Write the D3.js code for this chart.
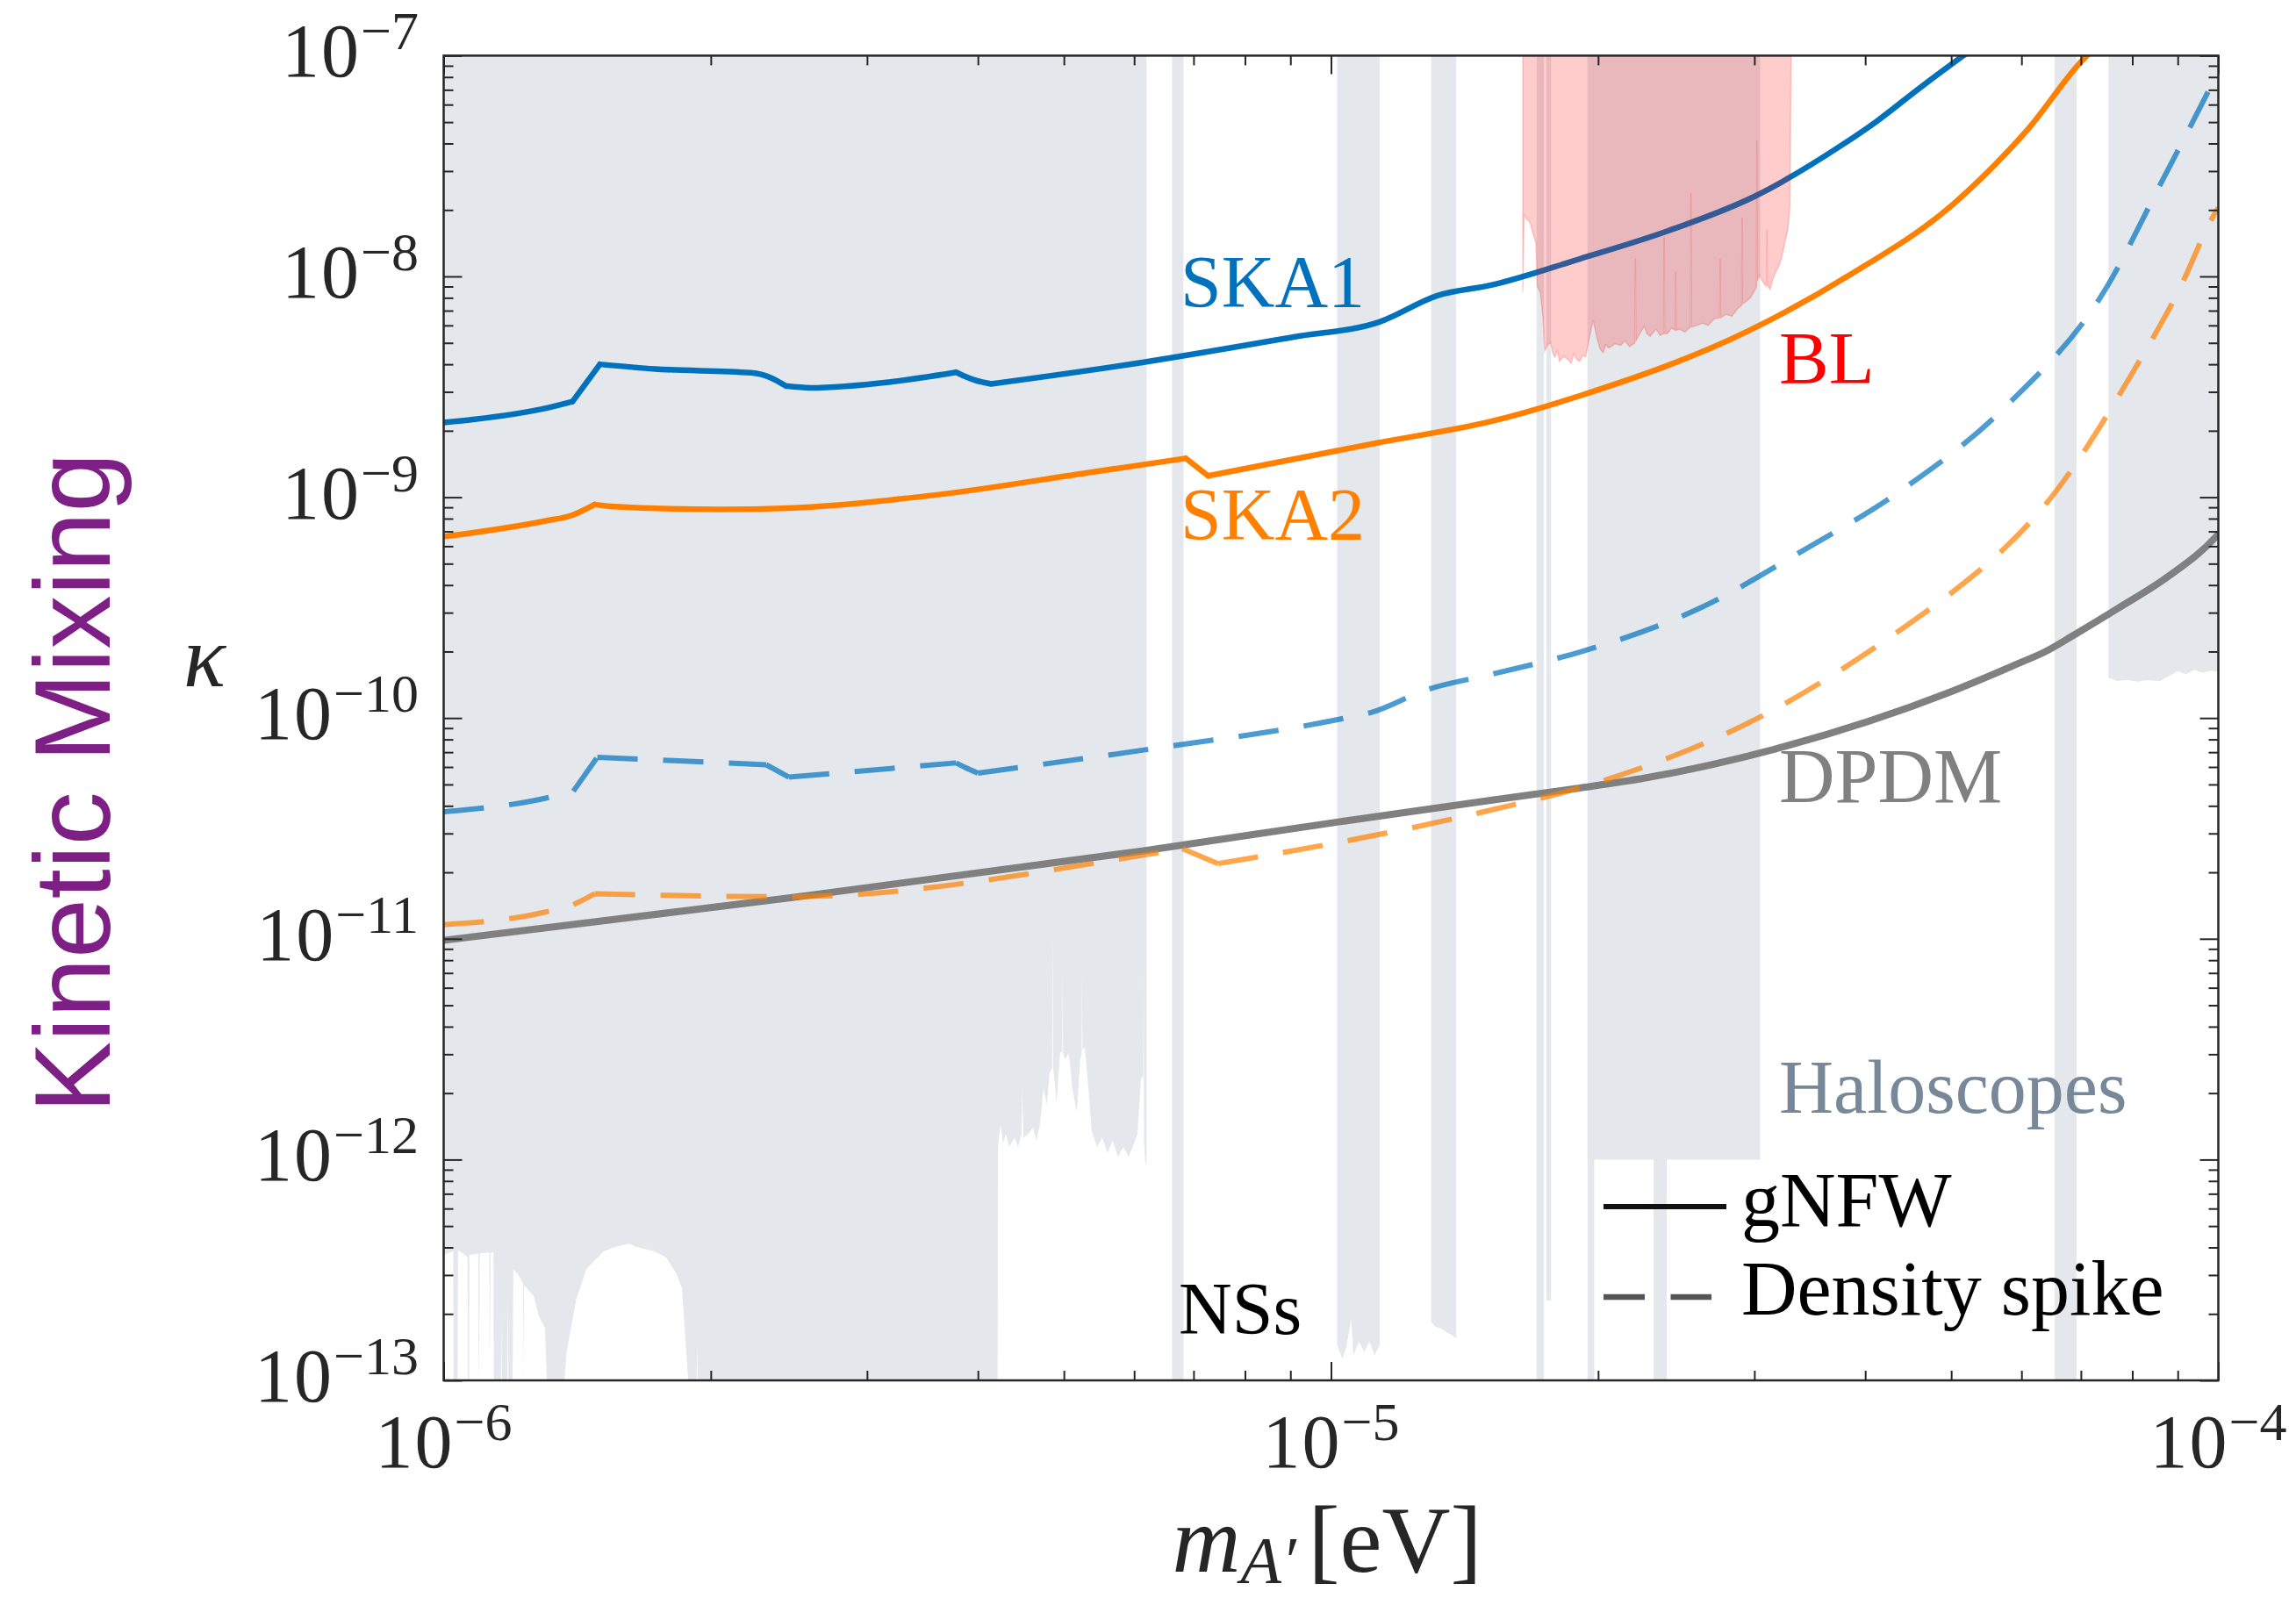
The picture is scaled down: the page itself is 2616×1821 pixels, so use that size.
<!DOCTYPE html>
<html>
<head>
<meta charset="utf-8">
<script src="https://cdn.jsdelivr.net/npm/d3@7"></script>
<style>
  html, body { margin: 0; padding: 0; background: #ffffff; }
  svg { display: block; }
</style>
</head>
<body>
<svg id="chart" width="2616" height="1821"></svg>
<script>
// ---------- axis ranges and tick labels ----------
const massDomain = [1e-6, 1e-4];
const kappaDomain = [1e-13, 1e-7];
const xMajorTicks = [1e-6, 1e-5, 1e-4];
const xTickExponents = ["\u22126", "\u22125", "\u22124"];
const yMajorTicks = [1e-13, 1e-12, 1e-11, 1e-10, 1e-9, 1e-8, 1e-7];
const yTickExponents = ["\u221213", "\u221212", "\u221211", "\u221210", "\u22129", "\u22128", "\u22127"];

// ---------- projected sensitivities [mass eV, kappa] ----------
const ska1Gnfw = [
  [1.0e-6, 2.18e-9], [1.08e-6, 2.25e-9], [1.315e-6, 2.55e-9], [1.397e-6, 2.71e-9],
  [1.50e-6, 4.00e-9], [1.73e-6, 3.81e-9], [2.22e-6, 3.66e-9], [2.34e-6, 3.47e-9],
  [2.43e-6, 3.19e-9], [2.59e-6, 3.13e-9], [3.19e-6, 3.33e-9], [3.78e-6, 3.68e-9],
  [3.86e-6, 3.54e-9], [3.96e-6, 3.40e-9], [4.14e-6, 3.26e-9], [6.13e-6, 4.08e-9],
  [9.08e-6, 5.32e-9], [1.134e-5, 6.22e-9], [1.318e-5, 8.18e-9], [1.519e-5, 9.15e-9],
  [1.907e-5, 1.20e-8], [2.395e-5, 1.605e-8], [3.006e-5, 2.31e-8], [3.77e-5, 3.95e-8],
  [4.12e-5, 5.04e-8], [4.60e-5, 7.10e-8], [5.16e-5, 1.0e-7], [5.50e-5, 1.2e-7]
];
const ska2Gnfw = [
  [1.0e-6, 6.62e-10], [1.30e-6, 7.80e-10], [1.397e-6, 8.30e-10], [1.48e-6, 9.27e-10],
  [1.54e-6, 9.10e-10], [2.05e-6, 8.80e-10], [2.45e-6, 8.93e-10], [3.63e-6, 1.03e-9],
  [5.38e-6, 1.30e-9], [6.86e-6, 1.50e-9], [7.27e-6, 1.25e-9], [1.134e-5, 1.77e-9],
  [1.519e-5, 2.21e-9], [1.907e-5, 2.88e-9], [2.953e-5, 5.66e-9], [3.85e-5, 1.02e-8],
  [5.03e-5, 2.13e-8], [6.10e-5, 4.64e-8], [7.11e-5, 1.0e-7], [7.40e-5, 1.15e-7]
];
const ska1Spike = [
  [1.0e-6, 3.76e-11], [1.315e-6, 4.37e-11], [1.40e-6, 4.66e-11], [1.49e-6, 6.64e-11],
  [2.31e-6, 6.14e-11], [2.45e-6, 5.40e-11], [3.78e-6, 6.26e-11], [3.86e-6, 6.00e-11],
  [4.00e-6, 5.63e-11], [6.13e-6, 7.15e-11], [1.038e-5, 1.00e-10], [1.11e-5, 1.06e-10],
  [1.28e-5, 1.34e-10], [1.519e-5, 1.58e-10], [1.907e-5, 1.99e-10], [2.62e-5, 3.18e-10],
  [3.374e-5, 5.62e-10], [4.40e-5, 1.08e-9], [5.745e-5, 2.55e-9], [7.50e-5, 9.06e-9],
  [8.56e-5, 2.51e-8], [9.91e-5, 7.90e-8], [1.0e-4, 8.5e-8]
];
const ska2Spike = [
  [1.0e-6, 1.16e-11], [1.30e-6, 1.32e-11], [1.40e-6, 1.43e-11], [1.48e-6, 1.60e-11],
  [2.45e-6, 1.55e-11], [6.13e-6, 2.39e-11], [6.80e-6, 2.56e-11], [7.46e-6, 2.19e-11],
  [1.038e-5, 2.77e-11], [1.34e-5, 3.42e-11], [1.519e-5, 3.84e-11], [1.98e-5, 5.05e-11],
  [3.03e-5, 1.00e-10], [4.64e-5, 2.95e-10], [4.89e-5, 3.44e-10], [6.58e-5, 1.08e-9],
  [8.01e-5, 3.68e-9], [9.03e-5, 8.69e-9], [9.91e-5, 1.93e-8], [1.0e-4, 2.05e-8]
];
const dpdmLine = [
  [1.0e-6, 9.84e-12], [2.45e-6, 1.53e-11], [6.13e-6, 2.50e-11], [1.038e-5, 3.42e-11],
  [1.519e-5, 4.25e-11], [1.907e-5, 4.82e-11], [2.26e-5, 5.35e-11], [3.16e-5, 7.22e-11],
  [4.96e-5, 1.30e-10], [5.98e-5, 1.78e-10], [6.37e-5, 1.99e-10], [6.88e-5, 2.38e-10],
  [7.71e-5, 3.14e-10], [8.79e-5, 4.39e-10], [9.94e-5, 6.62e-10], [1.0e-4, 6.8e-10]
];

// ---------- existing limits: lower edge of each excluded band [mass eV, kappa] ----------
const haloBandA = [
  [1.000e-6, 3.70e-13], [1.013e-6, 3.78e-13], [1.025e-6, 3.84e-13], [1.026e-6, 1e-13],
  [1.037e-6, 1e-13], [1.038e-6, 3.88e-13], [1.052e-6, 3.75e-13], [1.064e-6, 3.60e-13],
  [1.065e-6, 1e-13], [1.068e-6, 1e-13], [1.069e-6, 3.70e-13], [1.094e-6, 3.75e-13],
  [1.095e-6, 1e-13], [1.097e-6, 1.5e-13], [1.098e-6, 3.75e-13], [1.126e-6, 3.80e-13],
  [1.127e-6, 1.2e-13], [1.130e-6, 3.80e-13], [1.138e-6, 3.80e-13], [1.139e-6, 1e-13],
  [1.160e-6, 1e-13], [1.161e-6, 2.0e-13], [1.163e-6, 1e-13], [1.180e-6, 1e-13],
  [1.181e-6, 2.5e-13], [1.183e-6, 1e-13], [1.196e-6, 1e-13], [1.198e-6, 3.18e-13],
  [1.212e-6, 3.03e-13], [1.229e-6, 2.75e-13], [1.230e-6, 1e-13], [1.232e-6, 2.70e-13],
  [1.263e-6, 2.41e-13], [1.280e-6, 1.95e-13], [1.301e-6, 1.73e-13], [1.307e-6, 1e-13],
  [1.368e-6, 1e-13], [1.376e-6, 1.35e-13], [1.411e-6, 2.34e-13], [1.448e-6, 3.18e-13],
  [1.478e-6, 3.48e-13], [1.515e-6, 3.84e-13], [1.561e-6, 4.03e-13], [1.619e-6, 4.16e-13],
  [1.645e-6, 4.03e-13], [1.729e-6, 3.84e-13], [1.783e-6, 3.59e-13], [1.830e-6, 3.03e-13],
  [1.856e-6, 2.61e-13], [1.886e-6, 1e-13], [1.927e-6, 1e-13], [1.930e-6, 1.44e-13],
  [1.933e-6, 1e-13], [4.210e-6, 1e-13], [4.213e-6, 1.14e-12], [4.242e-6, 1.44e-12],
  [4.271e-6, 1.18e-12], [4.300e-6, 1.31e-12], [4.340e-6, 1.14e-12], [4.399e-6, 1.26e-12],
  [4.439e-6, 1.14e-12], [4.480e-6, 1.30e-12], [4.490e-6, 2.17e-12], [4.500e-6, 1.25e-12],
  [4.562e-6, 1.31e-12], [4.614e-6, 1.40e-12], [4.656e-6, 1.22e-12], [4.699e-6, 1.44e-12],
  [4.742e-6, 2.10e-12], [4.785e-6, 1.77e-12], [4.818e-6, 2.48e-12], [4.850e-6, 2.6e-12],
  [4.856e-6, 1.14e-11], [4.862e-6, 2.6e-12], [4.906e-6, 1.83e-12], [4.951e-6, 3.04e-12],
  [4.980e-6, 3.1e-12], [4.985e-6, 7.34e-12], [4.990e-6, 3.0e-12], [5.019e-6, 2.84e-12],
  [5.065e-6, 3.04e-12], [5.112e-6, 2.10e-12], [5.170e-6, 1.65e-12], [5.217e-6, 2.84e-12],
  [5.235e-6, 3.0e-12], [5.241e-6, 7.22e-12], [5.247e-6, 3.1e-12], [5.277e-6, 3.26e-12],
  [5.325e-6, 2.17e-12], [5.374e-6, 1.35e-12], [5.448e-6, 1.14e-12], [5.523e-6, 1.26e-12],
  [5.599e-6, 1.07e-12], [5.676e-6, 1.22e-12], [5.754e-6, 1.03e-12], [5.833e-6, 1.14e-12],
  [5.916e-6, 1.03e-12], [5.997e-6, 1.18e-12], [6.052e-6, 1.31e-12], [6.107e-6, 2.32e-12],
  [6.143e-6, 2.4e-12], [6.149e-6, 7.10e-12], [6.155e-6, 1.2e-12], [6.177e-6, 9.62e-13],
  [6.195e-6, 9.62e-13]
];
const haloBandB = [[6.62e-6, 1e-13], [6.82e-6, 1e-13]];
const haloBandC = [
  [1.016e-5, 1.45e-13], [1.030e-5, 1.25e-13], [1.040e-5, 1.40e-13], [1.054e-5, 1.90e-13],
  [1.060e-5, 1.30e-13], [1.075e-5, 1.50e-13], [1.090e-5, 1.35e-13], [1.105e-5, 1.50e-13],
  [1.120e-5, 1.30e-13], [1.135e-5, 1.45e-13]
];
const haloBandD = [
  [1.297e-5, 1.85e-13], [1.310e-5, 1.75e-13], [1.330e-5, 1.72e-13], [1.350e-5, 1.65e-13],
  [1.370e-5, 1.60e-13], [1.384e-5, 1.55e-13]
];
const haloBandE = [[1.705e-5, 1e-13], [1.737e-5, 1e-13]];
const haloBandF = [[1.749e-5, 2.3e-13], [1.770e-5, 2.3e-13]];
const haloBandG = [[1.946e-5, 1.0e-12], [3.045e-5, 1.0e-12]];
const haloBandG1 = [[1.946e-5, 1e-13], [1.980e-5, 1e-13]];
const haloBandG2 = [[2.310e-5, 1e-13], [2.390e-5, 1e-13]];
const haloBandH = [[6.54e-5, 1e-13], [6.92e-5, 1e-13]];
const haloBandI = [
  [7.52e-5, 1.52e-10], [7.70e-5, 1.47e-10], [7.90e-5, 1.49e-10], [8.10e-5, 1.46e-10],
  [8.30e-5, 1.48e-10], [8.60e-5, 1.47e-10], [8.80e-5, 1.55e-10], [9.00e-5, 1.63e-10],
  [9.20e-5, 1.58e-10], [9.40e-5, 1.65e-10], [9.60e-5, 1.60e-10], [9.80e-5, 1.64e-10],
  [1.0e-4, 1.62e-10]
];
const haloBands = [haloBandA, haloBandB, haloBandC, haloBandD, haloBandE, haloBandF,
                   haloBandG, haloBandG1, haloBandG2, haloBandH, haloBandI];

const blLimit = [
  [1.645e-5, 8.5e-9], [1.650e-5, 1.9e-8], [1.664e-5, 1.81e-8], [1.676e-5, 1.76e-8],
  [1.689e-5, 1.56e-8], [1.702e-5, 1.42e-8], [1.708e-5, 8.98e-9], [1.722e-5, 8.46e-9],
  [1.734e-5, 6.43e-9], [1.741e-5, 4.59e-9], [1.755e-5, 4.9e-9], [1.768e-5, 5.04e-9],
  [1.778e-5, 4.5e-9], [1.788e-5, 4.32e-9], [1.800e-5, 4.6e-9], [1.809e-5, 4.13e-9],
  [1.830e-5, 4.35e-9], [1.850e-5, 4.19e-9], [1.865e-5, 4.05e-9], [1.878e-5, 4.46e-9],
  [1.893e-5, 4.2e-9], [1.907e-5, 4.13e-9], [1.922e-5, 4.4e-9], [1.936e-5, 4.32e-9],
  [1.951e-5, 5.04e-9], [1.974e-5, 6.33e-9], [1.996e-5, 5.19e-9], [2.010e-5, 4.7e-9],
  [2.026e-5, 4.52e-9], [2.040e-5, 4.9e-9], [2.057e-5, 4.74e-9], [2.090e-5, 4.95e-9],
  [2.121e-5, 4.88e-9], [2.145e-5, 5.1e-9], [2.170e-5, 4.81e-9], [2.200e-5, 5.0e-9],
  [2.203e-5, 1.2e-8], [2.206e-5, 5.1e-9], [2.220e-5, 5.35e-9], [2.254e-5, 5.95e-9],
  [2.270e-5, 5.5e-9], [2.289e-5, 5.35e-9], [2.324e-5, 5.77e-9], [2.350e-5, 5.4e-9],
  [2.371e-5, 5.5e-9], [2.374e-5, 1.51e-8], [2.377e-5, 5.5e-9], [2.395e-5, 5.51e-9],
  [2.420e-5, 5.85e-9], [2.443e-5, 5.7e-9], [2.446e-5, 1.05e-8], [2.449e-5, 5.7e-9],
  [2.469e-5, 5.77e-9], [2.505e-5, 5.6e-9], [2.542e-5, 5.9e-9], [2.545e-5, 2.38e-8],
  [2.548e-5, 5.9e-9], [2.585e-5, 6.0e-9], [2.623e-5, 6.14e-9], [2.660e-5, 6.0e-9],
  [2.704e-5, 6.43e-9], [2.742e-5, 6.5e-9], [2.745e-5, 1.2e-8], [2.748e-5, 6.5e-9],
  [2.787e-5, 6.73e-9], [2.830e-5, 6.6e-9], [2.873e-5, 7.15e-9], [2.903e-5, 7.4e-9],
  [2.906e-5, 1.84e-8], [2.909e-5, 7.5e-9], [2.939e-5, 7.72e-9], [2.970e-5, 8.0e-9],
  [3.006e-5, 8.72e-9], [3.017e-5, 9.0e-9], [3.020e-5, 4.13e-8], [3.023e-5, 9.5e-9],
  [3.041e-5, 1.016e-8], [3.060e-5, 9.6e-9], [3.076e-5, 9.27e-9], [3.097e-5, 9.0e-9],
  [3.100e-5, 1.63e-8], [3.103e-5, 9.2e-9], [3.124e-5, 8.72e-9], [3.150e-5, 9.8e-9],
  [3.171e-5, 1.047e-8], [3.200e-5, 1.12e-8], [3.221e-5, 1.22e-8], [3.244e-5, 1.40e-8],
  [3.270e-5, 1.605e-8], [3.290e-5, 2.05e-8], [3.295e-5, 4.52e-8], [3.300e-5, 1.0e-7]
];

// ---------- scales ----------
const plot = { left: 505.5, right: 2527.5, top: 63.4, bottom: 1573 };
const x = d3.scaleLog().domain(massDomain).range([plot.left, plot.right]);
const y = d3.scaleLog().domain(kappaDomain).range([plot.bottom, plot.top]);
const kTop = kappaDomain[1];

const serif = "'Liberation Serif', 'Times New Roman', serif";
const ink = "#262626";

const svg = d3.select("#chart");
svg.append("defs").append("clipPath").attr("id", "plotClip")
  .append("rect")
  .attr("x", plot.left).attr("y", plot.top)
  .attr("width", plot.right - plot.left).attr("height", plot.bottom - plot.top);

const area = svg.append("g").attr("clip-path", "url(#plotClip)");
const line = d3.line().x(d => x(d[0])).y(d => y(d[1]));
const monotone = d3.line().curve(d3.curveMonotoneX);

// Smooth curve through the points, but keep sharp corners where the
// direction turns by more than ~20 degrees.
function cornerPreservingPath(data) {
  const pts = data.map(d => [x(d[0]), y(d[1])]);
  const pieces = [];
  let start = 0;
  for (let i = 1; i < pts.length - 1; i++) {
    const a1 = Math.atan2(pts[i][1] - pts[i - 1][1], pts[i][0] - pts[i - 1][0]);
    const a2 = Math.atan2(pts[i + 1][1] - pts[i][1], pts[i + 1][0] - pts[i][0]);
    if (Math.abs(a2 - a1) > 20 * Math.PI / 180) {
      pieces.push(pts.slice(start, i + 1));
      start = i;
    }
  }
  pieces.push(pts.slice(start));
  return pieces.map(p => monotone(p)).join("");
}

// haloscope exclusion bands: filled from each lower edge up to the top of the frame
function bandPolygon(edge) {
  return [[edge[0][0], kTop], ...edge, [edge[edge.length - 1][0], kTop]];
}
area.append("g").selectAll("path").data(haloBands).join("path")
  .attr("d", d => line(bandPolygon(d)) + "Z")
  .attr("fill", "#e4e7eb")
  .attr("stroke", "none");

// sensitivity curves
const curves = [
  { data: dpdmLine, color: "#808080", width: 8, dash: null, opacity: 1, cap: "round" },
  { data: ska2Spike, color: "#ff8000", width: 6, dash: "46 29", opacity: 0.7, cap: "butt" },
  { data: ska1Spike, color: "#0072bd", width: 6, dash: "46 29", opacity: 0.7, cap: "butt" },
  { data: ska2Gnfw, color: "#ff8000", width: 6.5, dash: null, opacity: 1, cap: "round" },
  { data: ska1Gnfw, color: "#0072bd", width: 6.5, dash: null, opacity: 1, cap: "round" }
];
area.append("g").selectAll("path").data(curves).join("path")
  .attr("d", d => cornerPreservingPath(d.data))
  .attr("fill", "none")
  .attr("stroke", d => d.color)
  .attr("stroke-width", d => d.width)
  .attr("stroke-opacity", d => d.opacity)
  .attr("stroke-dasharray", d => d.dash)
  .attr("stroke-linecap", d => d.cap)
  .attr("stroke-linejoin", "round");

// BL exclusion, translucent on top
area.append("path")
  .attr("d", line(bandPolygon(blLimit)) + "Z")
  .attr("fill", "#ff0000").attr("fill-opacity", 0.2)
  .attr("stroke", "#ff0000").attr("stroke-opacity", 0.18).attr("stroke-width", 1.5);

// ---------- ticks on all four sides, pointing inward ----------
const isMajor = v => Math.abs(Math.log10(v) - Math.round(Math.log10(v))) < 1e-6;
const xMinor = x.ticks().filter(v => !isMajor(v));
const yMinor = y.ticks().filter(v => !isMajor(v));

function tickGroup(axisFn, scale, values, size, tx, ty) {
  const g = svg.append("g").attr("transform", `translate(${tx},${ty})`)
    .call(axisFn(scale).tickValues(values).tickSize(-size).tickFormat(""));
  g.select(".domain").remove();
  g.selectAll(".tick line").attr("stroke", ink).attr("stroke-width", 2);
}
tickGroup(d3.axisBottom, x, xMinor, 11, 0, plot.bottom);
tickGroup(d3.axisBottom, x, xMajorTicks, 21, 0, plot.bottom);
tickGroup(d3.axisTop, x, xMinor, 11, 0, plot.top);
tickGroup(d3.axisTop, x, xMajorTicks, 21, 0, plot.top);
tickGroup(d3.axisLeft, y, yMinor, 11, plot.left, 0);
tickGroup(d3.axisLeft, y, yMajorTicks, 21, plot.left, 0);
tickGroup(d3.axisRight, y, yMinor, 11, plot.right, 0);
tickGroup(d3.axisRight, y, yMajorTicks, 21, plot.right, 0);

// frame
svg.append("rect")
  .attr("x", plot.left).attr("y", plot.top)
  .attr("width", plot.right - plot.left).attr("height", plot.bottom - plot.top)
  .attr("fill", "none").attr("stroke", ink).attr("stroke-width", 2.5);

// ---------- tick labels: 10^n ----------
function powerLabel(px, py, anchor, exponent) {
  const t = svg.append("text")
    .attr("x", px).attr("y", py)
    .attr("text-anchor", anchor)
    .attr("font-family", serif).attr("fill", ink);
  t.append("tspan").attr("font-size", 86).attr("letter-spacing", 2).text("10");
  t.append("tspan").attr("font-size", 62).attr("dy", -31).text(exponent);
}
yMajorTicks.forEach((v, i) => powerLabel(477, y(v) + 24, "end", yTickExponents[i]));
xMajorTicks.forEach((v, i) => powerLabel(x(v), 1672, "middle", xTickExponents[i]));

// ---------- axis titles ----------
const xl = svg.append("text")
  .attr("x", 1512).attr("y", 1791).attr("text-anchor", "middle")
  .attr("font-family", serif).attr("font-size", 108).attr("fill", ink);
xl.append("tspan").attr("font-style", "italic").text("m");
xl.append("tspan").attr("font-style", "italic").attr("font-size", 76).attr("dy", 13).text("A\u2032");
xl.append("tspan").attr("dy", -13).attr("dx", 14).text("[eV]");

svg.append("text")
  .attr("x", 209).attr("y", 782)
  .attr("font-family", serif).attr("font-style", "italic").attr("font-size", 100)
  .attr("fill", ink).text("\u03ba");

svg.append("text")
  .attr("transform", "translate(125,892) rotate(-90)")
  .attr("text-anchor", "middle")
  .attr("font-family", "'Liberation Sans', Arial, sans-serif")
  .attr("font-size", 122).attr("fill", "#7e1f86")
  .text("Kinetic Mixing");

// ---------- in-plot annotations ----------
const notes = [
  { text: "SKA1", x: 1345, y: 350, color: "#0072bd", size: 84 },
  { text: "SKA2", x: 1345, y: 615, color: "#ff8000", size: 84 },
  { text: "BL", x: 2027, y: 437, color: "#ff0000", size: 85 },
  { text: "DPDM", x: 2027, y: 914, color: "#808080", size: 88 },
  { text: "Haloscopes", x: 2027, y: 1268, color: "#778899", size: 86 },
  { text: "NSs", x: 1343, y: 1520, color: "#000000", size: 84 }
];
svg.append("g").selectAll("text").data(notes).join("text")
  .attr("x", d => d.x).attr("y", d => d.y)
  .attr("font-family", serif).attr("font-size", d => d.size)
  .attr("fill", d => d.color).text(d => d.text);

// ---------- legend ----------
const legend = svg.append("g");
legend.append("line").attr("x1", 1827).attr("x2", 1967).attr("y1", 1375).attr("y2", 1375)
  .attr("stroke", "#111111").attr("stroke-width", 6);
legend.append("line").attr("x1", 1827).attr("x2", 1950).attr("y1", 1478).attr("y2", 1478)
  .attr("stroke", "#555555").attr("stroke-width", 6.5).attr("stroke-dasharray", "47 29.5");
legend.append("text").attr("x", 1984).attr("y", 1397)
  .attr("font-family", serif).attr("font-size", 88).attr("fill", "#000").text("gNFW");
legend.append("text").attr("x", 1984).attr("y", 1498)
  .attr("font-family", serif).attr("font-size", 88).attr("fill", "#000").text("Density spike");
</script>
</body>
</html>
